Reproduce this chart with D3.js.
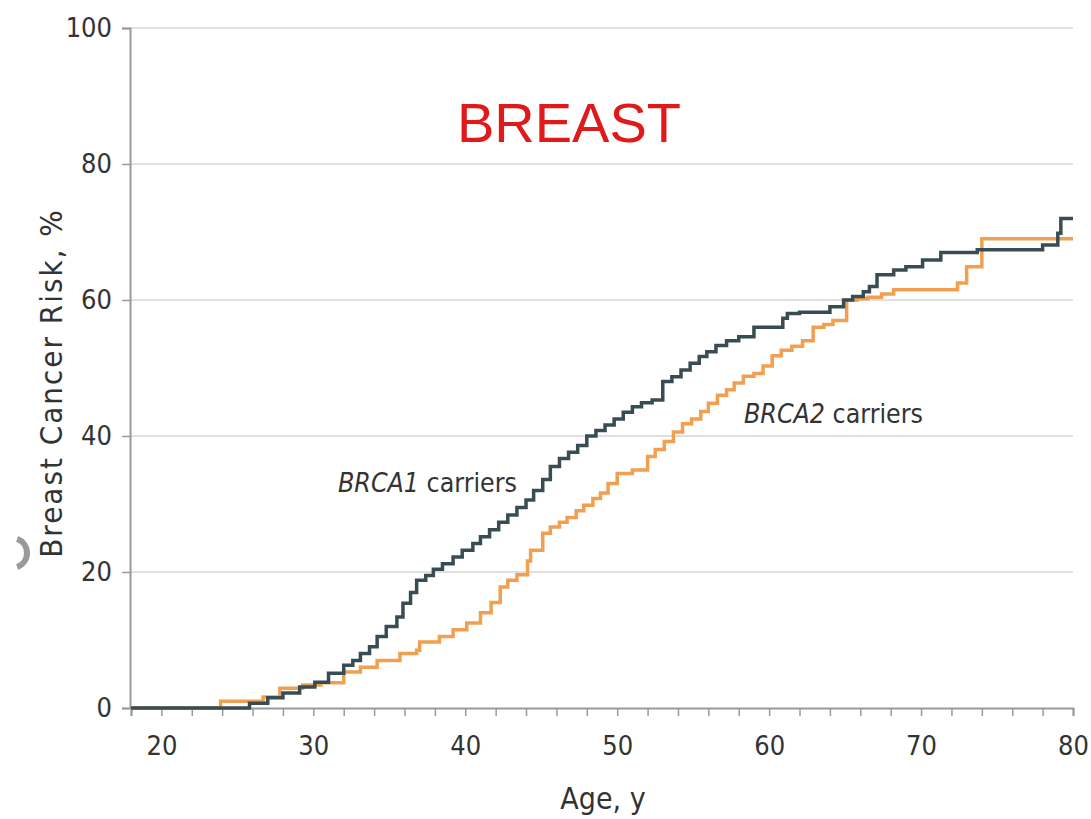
<!DOCTYPE html>
<html>
<head>
<meta charset="utf-8">
<script src="https://cdn.jsdelivr.net/npm/d3@7"></script>
<style>
  body { margin: 0; background: #fff; }
  svg { display: block; }
  .lbl { font-family: "Liberation Sans Narrow", "DejaVu Sans Condensed", "Open Sans", sans-serif; fill: #333; }
</style>
</head>
<body>
<div id="chart"></div>
<script>
// ages (years) where each cumulative-risk step starts, and the risk (%) after the step
const brca1Age = [18, 25.8, 27, 28, 29.1, 30.1, 31, 32, 32.6, 33.1, 33.7, 34.2, 34.8, 35.5, 35.9, 36.4, 36.8, 37.4, 37.9,
  38.5, 39.2, 39.8, 40.5, 41, 41.6, 42.2, 42.8, 43.4, 44, 44.5, 45.1, 45.6, 46.2, 46.8, 47.4, 48, 48.6, 49.2, 49.8,
  50.4, 51, 51.6, 52.3, 53, 53.6, 54.2, 54.8, 55.4, 55.9, 56.5, 57.2, 58, 59, 60.9, 61.2, 62, 64, 64.9, 65.5, 66.2,
  66.6, 67.1, 68.2, 69, 70.1, 71.3, 73.7, 78, 79, 79.2, 80];
const brca1Risk = [0, 0.7, 1.5, 2.2, 3.1, 3.8, 5.1, 6.3, 7, 8, 9, 10.5, 12, 13.4, 15.4, 17, 18.8, 19.5, 20.4,
  21.2, 22.2, 23.2, 24.2, 25.2, 26.2, 27.3, 28.4, 29.5, 30.6, 32, 33.6, 35.5, 36.7, 37.6, 38.6, 40, 40.8, 41.6, 42.5,
  43.5, 44.3, 44.9, 45.3, 48, 48.7, 49.7, 50.7, 51.7, 52.4, 53.3, 54, 54.6, 56, 57.3, 58, 58.2, 59, 60, 60.5, 61.2,
  62, 63.7, 64.4, 64.9, 65.9, 67, 67.4, 68.1, 69.8, 72, 72];

const brca2Age = [18, 23.9, 26.7, 27.8, 29.3, 30.5, 32, 33.1, 34.2, 35.7, 36.8, 37, 38.3, 39.2, 40.1, 41, 41.7, 42.3,
  42.8, 43.4, 44.1, 44.3, 45.1, 45.6, 46.2, 46.7, 47.3, 47.8, 48.4, 48.9, 49.4, 50, 51, 52, 52.5, 53.1, 53.7, 54.3,
  54.9, 55.5, 56, 56.6, 57.2, 57.7, 58.3, 59, 59.6, 60.2, 60.8, 61.5, 62.2, 62.9, 63.6, 64.2, 65.1, 65.8, 66.5, 67.4,
  68.2, 72.4, 73, 74, 80];
const brca2Risk = [0, 1, 1.6, 2.9, 3.4, 3.7, 5.3, 6, 7, 8, 8.5, 9.7, 10.5, 11.5, 12.5, 14, 15.5, 17.8,
  18.8, 19.6, 21.6, 23.2, 25.7, 26.6, 27.3, 28, 29, 29.8, 30.8, 31.6, 33, 34.5, 35, 37, 38, 39.2, 40.6, 41.8,
  42.5, 43.6, 44.8, 46, 46.8, 47.8, 48.8, 49.2, 50.3, 51.8, 52.6, 53.2, 54, 56, 56.4, 57, 60, 60.2, 60.4, 60.9,
  61.5, 62.5, 64.9, 69, 69];

const xTicks = d3.range(18, 81, 2);
const yTicks = [0, 20, 40, 60, 80, 100];

const width = 1091, height = 819;
const x = d3.scaleLinear().domain([18, 80]).range([131, 1073]);
const y = d3.scaleLinear().domain([0, 100]).range([708, 28]);

const svg = d3.select("#chart").append("svg")
    .attr("width", width)
    .attr("height", height);

// grid
svg.append("g")
    .selectAll("line")
    .data(yTicks.filter(d => d > 0))
    .enter()
    .append("line")
    .attr("x1", x(18))
    .attr("x2", x(80))
    .attr("y1", d => y(d))
    .attr("y2", d => y(d))
    .attr("stroke", "#d6d6d6")
    .attr("stroke-width", 1.5);

const xAxis = d3.axisBottom(x)
    .tickValues(xTicks)
    .tickSize(8)
    .tickPadding(20)
    .tickFormat(d => d % 10 === 0 ? d : "");

const yAxis = d3.axisLeft(y)
    .tickValues(yTicks)
    .tickSize(8)
    .tickPadding(10);

const gx = svg.append("g")
    .attr("transform", "translate(0," + y(0) + ")")
    .call(xAxis);
const gy = svg.append("g")
    .attr("transform", "translate(" + (x(18) - 1) + ",0)")
    .call(yAxis);

[gx, gy].forEach(g => {
    g.select(".domain").attr("stroke", "#9a9a9a").attr("stroke-width", 2);
    g.selectAll(".tick line").attr("stroke", "#9a9a9a").attr("stroke-width", 1.5);
    g.selectAll(".tick text")
        .attr("class", "lbl")
        .style("font-size", "27px")
        .attr("fill", "#333");
});

// step lines
const line = d3.line()
    .x(d => x(d[0]))
    .y(d => y(d[1]))
    .curve(d3.curveStepAfter);

svg.append("path")
    .datum(brca2Age.map((a, i) => [a, brca2Risk[i]]))
    .attr("fill", "none")
    .attr("stroke", "#f0a050")
    .attr("stroke-width", 3.5)
    .attr("d", line);

svg.append("path")
    .datum(brca1Age.map((a, i) => [a, brca1Risk[i]]))
    .attr("fill", "none")
    .attr("stroke", "#384d53")
    .attr("stroke-width", 3.5)
    .attr("d", line);

// labels
svg.append("text")
    .attr("x", 569)
    .attr("y", 142)
    .attr("text-anchor", "middle")
    .style("font-family", "'Liberation Sans', Arial, sans-serif")
    .style("font-size", "56px")
    .attr("fill", "#e0191b")
    .text("BREAST");

const a1 = svg.append("text")
    .attr("class", "lbl")
    .attr("x", 338)
    .attr("y", 492)
    .style("font-size", "26.5px");
a1.append("tspan").style("font-style", "italic").text("BRCA1");
a1.append("tspan").text(" carriers");

const a2 = svg.append("text")
    .attr("class", "lbl")
    .attr("x", 744)
    .attr("y", 423)
    .style("font-size", "26.5px");
a2.append("tspan").style("font-style", "italic").text("BRCA2");
a2.append("tspan").text(" carriers");

svg.append("text")
    .attr("class", "lbl")
    .attr("x", 603)
    .attr("y", 809)
    .attr("text-anchor", "middle")
    .style("font-size", "30px")
    .text("Age, y");

svg.append("text")
    .attr("class", "lbl")
    .attr("transform", "translate(62,383) rotate(-90)")
    .attr("text-anchor", "middle")
    .style("font-size", "31px")
    .style("letter-spacing", "2px")
    .text("Breast Cancer Risk, %");

// stray grey mark at the left edge of the scan
svg.append("path")
    .attr("transform", "translate(12,553)")
    .attr("d", d3.arc()({innerRadius: 12, outerRadius: 18, startAngle: 0.35, endAngle: Math.PI - 0.35}))
    .attr("fill", "#9a9a9a");
</script>
</body>
</html>
